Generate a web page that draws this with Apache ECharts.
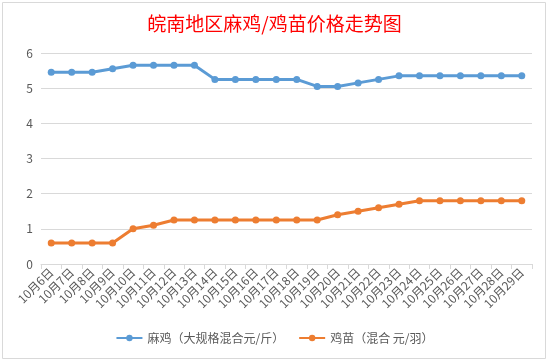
<!DOCTYPE html>
<html><head><meta charset="utf-8">
<script src="https://cdn.jsdelivr.net/npm/echarts@6/dist/echarts.min.js"></script>
<style>html,body{margin:0;padding:0;background:#fff;}#c{width:549px;height:363px;}</style>
</head><body><div id="c"></div>
<script>
var categories = ['10月6日','10月7日','10月8日','10月9日','10月10日','10月11日','10月12日','10月13日','10月14日','10月15日','10月16日','10月17日','10月18日','10月19日','10月20日','10月21日','10月22日','10月23日','10月24日','10月25日','10月26日','10月27日','10月28日','10月29日'];
var maji = [5.45,5.45,5.45,5.55,5.65,5.65,5.65,5.65,5.25,5.25,5.25,5.25,5.25,5.05,5.05,5.15,5.25,5.35,5.35,5.35,5.35,5.35,5.35,5.35];
var jimiao = [0.6,0.6,0.6,0.6,1.0,1.1,1.25,1.25,1.25,1.25,1.25,1.25,1.25,1.25,1.4,1.5,1.6,1.7,1.8,1.8,1.8,1.8,1.8,1.8];
var seriesNames = ['麻鸡（大规格混合元/斤）','鸡苗（混合 元/羽）'];
var titleText = '皖南地区麻鸡/鸡苗价格走势图';

var chart = echarts.init(document.getElementById('c'), null, {renderer:'canvas'});
var font = '"Noto Sans CJK SC", "Noto Sans", sans-serif';
chart.setOption({
  animation:false,
  textStyle:{fontFamily:font},
  title:{text:titleText,left:'center',top:9,textStyle:{color:'#ff0000',fontSize:19,fontWeight:'normal',fontFamily:font}},
  graphic:[{type:'rect',shape:{x:2.5,y:2.5,width:543,height:356},style:{fill:null,stroke:'#d9d9d9',lineWidth:1},silent:true,z:-1}],
  grid:{left:41,right:17,top:53,bottom:99,containLabel:false},
  legend:{bottom:14,left:'center',itemWidth:26,itemHeight:8,itemGap:14,textStyle:{color:'#595959',fontSize:12,fontFamily:font},data:seriesNames},
  xAxis:{type:'category',data:categories,boundaryGap:true,
    axisLine:{lineStyle:{color:'#d9d9d9'}},
    axisTick:{show:true,length:5,lineStyle:{color:'#d9d9d9'}},
    axisLabel:{rotate:45,interval:0,color:'#595959',fontSize:12,margin:6,fontFamily:font}},
  yAxis:{type:'value',min:0,max:6,interval:1,
    axisLine:{show:false},axisTick:{show:false},
    splitLine:{lineStyle:{color:'#d9d9d9'}},
    axisLabel:{color:'#595959',fontSize:12,margin:8,fontFamily:font}},
  series:[
    {name:seriesNames[0],type:'line',data:maji,symbol:'circle',symbolSize:7,lineStyle:{width:3,color:'#5B9BD5'},itemStyle:{color:'#5B9BD5'}},
    {name:seriesNames[1],type:'line',data:jimiao,symbol:'circle',symbolSize:7,lineStyle:{width:3,color:'#ED7D31'},itemStyle:{color:'#ED7D31'}}
  ]
});
</script></body></html>
